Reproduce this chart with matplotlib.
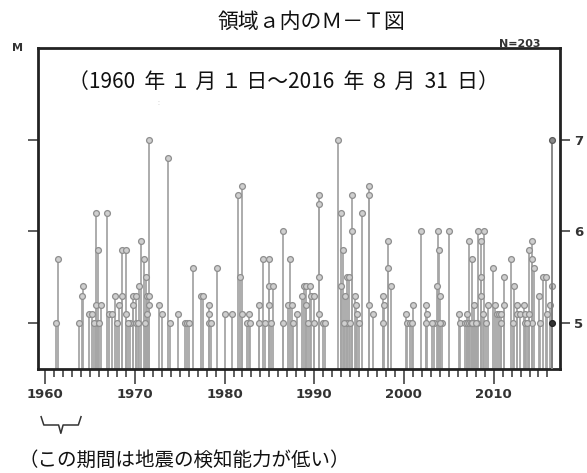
import numpy as np
import matplotlib
matplotlib.use('Agg')
from matplotlib import pyplot as plt
from matplotlib.transforms import blended_transform_factory

plt.rcParams['font.family'] = ['Noto Sans CJK JP', 'DejaVu Sans']

# event time (decimal year) and magnitude
years = [1961.19, 1961.45, 1963.82, 1964.09, 1964.24, 1964.94, 1965.21, 1965.65, 1965.65, 1965.91,
         1965.91, 1966.21, 1966.88, 1967.13, 1967.50, 1967.77, 1968.06, 1968.28, 1968.55, 1968.55,
         1969.00, 1969.00, 1969.48, 1969.84, 1969.84, 1970.14, 1970.14, 1970.48, 1970.67, 1971.04,
         1971.29, 1971.40, 1971.40, 1971.63, 1971.63, 1971.63, 1972.74, 1973.04, 1973.68, 1973.94,
         1974.86, 1975.57, 1975.80, 1976.02, 1976.47, 1977.36, 1977.65, 1978.28, 1978.28, 1978.28,
         1978.51, 1979.17, 1980.07, 1980.88, 1981.52, 1981.74, 1982.00, 1982.00, 1982.49, 1982.71,
         1982.85, 1983.82, 1983.82, 1984.34, 1984.97, 1984.97, 1984.97, 1985.20, 1985.45, 1986.50,
         1986.50, 1987.06, 1987.35, 1987.50, 1987.68, 1988.13, 1988.65, 1988.91, 1989.10, 1989.10,
         1989.32, 1989.54, 1989.65, 1989.96, 1989.96, 1990.58, 1990.58, 1990.58, 1990.58, 1990.96,
         1991.18, 1992.70, 1993.00, 1993.19, 1993.00, 1993.48, 1993.63, 1993.89, 1993.63, 1994.19,
         1994.19, 1994.56, 1994.67, 1994.75, 1994.97, 1995.37, 1996.15, 1996.15, 1996.15, 1996.57,
         1997.65, 1997.83, 1997.65, 1998.27, 1998.27, 1998.54, 2000.28, 2000.39, 2000.69, 2000.88,
         2001.06, 2001.88, 2002.47, 2002.55, 2002.47, 2003.40, 2003.67, 2003.85, 2003.96, 2004.04,
         2004.22, 2005.00, 2006.15, 2006.26, 2006.82, 2007.05, 2007.27, 2007.49, 2007.72, 2007.94,
         2008.17, 2007.08, 2007.30, 2007.57, 2007.86, 2008.30, 2008.57, 2008.57, 2008.57, 2008.94,
         2008.86, 2009.16, 2009.42, 2009.98, 2010.20, 2010.35, 2010.58, 2010.80, 2010.80, 2011.14,
         2011.14, 2011.95, 2012.15, 2012.32, 2012.59, 2012.65, 2012.96, 2013.43, 2013.54, 2013.54,
         2013.92, 2013.99, 2014.26, 2014.26, 2014.52, 2015.04, 2015.48, 2015.85, 2016.00, 2016.30,
         2003.10, 2004.00, 2014.30, 1965.40, 1966.00, 1969.20, 1970.30, 1971.10, 1984.50, 1993.30,
         1994.00, 2007.60, 2008.00, 2013.70, 2015.20, 2016.56, 2016.56, 2016.56]
mags = [5.0, 5.7, 5.0, 5.3, 5.4, 5.1, 5.1, 6.2, 5.2, 5.8,
        5.0, 5.2, 6.2, 5.1, 5.1, 5.3, 5.0, 5.2, 5.8, 5.3,
        5.8, 5.1, 5.0, 5.3, 5.2, 5.3, 5.0, 5.4, 5.9, 5.7,
        5.5, 5.3, 5.1, 7.0, 5.3, 5.2, 5.2, 5.1, 6.8, 5.0,
        5.1, 5.0, 5.0, 5.0, 5.6, 5.3, 5.3, 5.2, 5.1, 5.0,
        5.0, 5.6, 5.1, 5.1, 6.4, 5.5, 6.5, 5.1, 5.0, 5.1,
        5.0, 5.2, 5.0, 5.7, 5.7, 5.4, 5.2, 5.0, 5.4, 6.0,
        5.0, 5.2, 5.7, 5.2, 5.0, 5.1, 5.3, 5.4, 5.4, 5.2,
        5.0, 5.4, 5.3, 5.3, 5.0, 6.4, 6.3, 5.5, 5.1, 5.0,
        5.0, 7.0, 6.2, 5.8, 5.4, 5.3, 5.5, 5.5, 5.0, 6.4,
        6.0, 5.3, 5.2, 5.1, 5.0, 6.2, 6.5, 6.4, 5.2, 5.1,
        5.3, 5.2, 5.0, 5.9, 5.6, 5.4, 5.1, 5.0, 5.0, 5.0,
        5.2, 6.0, 5.2, 5.1, 5.0, 5.0, 5.4, 6.0, 5.8, 5.3,
        5.0, 6.0, 5.1, 5.0, 5.0, 5.0, 5.0, 5.0, 5.0, 5.0,
        5.0, 5.1, 5.9, 5.7, 5.2, 6.0, 5.9, 5.5, 5.3, 6.0,
        5.1, 5.0, 5.2, 5.6, 5.2, 5.1, 5.1, 5.1, 5.0, 5.5,
        5.2, 5.7, 5.0, 5.4, 5.2, 5.1, 5.1, 5.2, 5.1, 5.0,
        5.1, 5.8, 5.9, 5.7, 5.6, 5.3, 5.5, 5.5, 5.1, 5.2,
        5.0, 5.0, 5.0, 5.0, 5.0, 5.0, 5.0, 5.0, 5.0, 5.0,
        5.0, 5.0, 5.0, 5.0, 5.0, 7.0, 5.4, 5.0]

y_ticks = [5, 6, 7]
x_major = [1960, 1970, 1980, 1990, 2000, 2010]
x_minor = list(range(1960, 2017))

fig = plt.figure(figsize=(5.87, 4.73), dpi=100)
ax = fig.add_axes([0.0647, 0.2204, 0.8893, 0.6771])

m_bottom = 4.5
ax.vlines(years[:-3], m_bottom, mags[:-3], colors='#a6a6a6', linewidth=1.3, zorder=1)
ax.plot(years[:-3] + years[-2:-1], mags[:-3] + mags[-2:-1], 'o', ms=4.2, mfc='#cfcfcf',
        mec='#8e8e8e', mew=0.9, zorder=2)
# latest event (2016) drawn darker
ax.vlines(years[-3:], m_bottom, mags[-3:], colors='#808080', linewidth=1.3, zorder=3)
ax.plot(years[-3], mags[-3], 'o', ms=4.2, mfc='#8a8a8a', mec='#5a5a5a', mew=0.9, zorder=4)
ax.plot(years[-1], mags[-1], 'o', ms=4.2, mfc='#333333', mec='#222222', mew=0.9, zorder=5)

ax.set_xlim(1959.2, 2017.4)
ax.set_ylim(m_bottom, 8.0)

for s in ax.spines.values():
    s.set_linewidth(2)
    s.set_color('#222222')

ax.set_xticks(x_major)
ax.set_xticks(x_minor, minor=True)
ax.tick_params(axis='x', which='major', direction='out', length=11, width=1.1, color='#333333',
               labelsize=9.5, labelcolor='#333333', pad=3)
ax.tick_params(axis='x', which='minor', direction='out', length=5.5, width=1.1, color='#333333')
for lab in ax.get_xticklabels():
    lab.set_family('DejaVu Sans')
    lab.set_fontweight('bold')

ax.set_yticks(y_ticks)
ax.tick_params(axis='y', which='major', direction='out', left=True, right=True, labelleft=False,
               labelright=True, length=7, width=1.1, color='#333333', labelsize=9.5,
               labelcolor='#333333', pad=3)
for lab in ax.get_yticklabels():
    lab.set_family('DejaVu Sans')
    lab.set_fontweight('bold')

fig.text(312 / 587, 0.953, '領域ａ内のＭ－Ｔ図', ha='center', va='center', fontsize=15, color='#111111')
fig.text(283 / 587, 1 - 82 / 473, '（1960  年 １ 月 １ 日～2016  年 ８ 月  31  日）', ha='center',
         va='center', fontsize=15, color='#111111')
fig.text(158 / 587, 1 - 103 / 473, ':', ha='center', va='center', fontsize=5, color='#c8c8c8')
fig.text(12 / 587, 1 - 48 / 473, 'M', ha='left', va='center', fontsize=8, fontweight='bold',
         color='#333333', family='DejaVu Sans')
fig.text(541 / 587, 1 - 44 / 473, 'N=203', ha='right', va='center', fontsize=8, fontweight='bold',
         color='#333333', family='DejaVu Sans')

# curly brace below 1960-1964
tr = blended_transform_factory(ax.transData, fig.transFigure)
bx = [1959.55, 1959.85, 1961.5, 1961.75, 1962.0, 1963.7, 1964.0]
by = [416.7, 425, 425, 433.3, 425, 425, 416.7]
fig.lines.append(plt.Line2D(bx, [1 - v / 473 for v in by], transform=tr, color='#333333',
                            linewidth=1.1, solid_joinstyle='round'))

fig.text(18 / 587, 1 - 460 / 473, '（この期間は地震の検知能力が低い）', ha='left', va='center',
         fontsize=14, color='#111111')

fig.savefig('out.png', dpi=100)
